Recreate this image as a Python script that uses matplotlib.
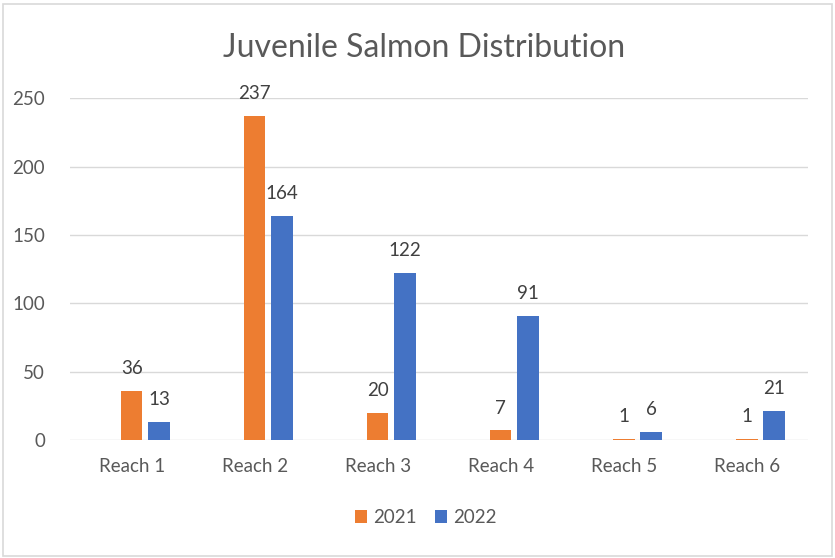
import matplotlib.pyplot as plt
import numpy as np
from matplotlib.patches import Rectangle

# Juvenile salmon counts per reach
reaches = ["Reach 1", "Reach 2", "Reach 3", "Reach 4", "Reach 5", "Reach 6"]
counts_2021 = [36, 237, 20, 7, 1, 1]
counts_2022 = [13, 164, 122, 91, 6, 21]
years = ["2021", "2022"]

orange = "#ED7D31"
blue = "#4472C4"
text_gray = "#595959"

plt.rcParams['font.family'] = ['Lato', 'DejaVu Sans']

fig = plt.figure(figsize=(8.35, 5.58), dpi=100)
ax = fig.add_axes([0.084, 0.2115, 0.884, 0.6125])

x = np.arange(len(reaches))
width = 0.175
b1 = ax.bar(x, counts_2021, width, color=orange, label=years[0])
b2 = ax.bar(x + 0.222, counts_2022, width, color=blue, label=years[1])

for bars in (b1, b2):
    ax.bar_label(bars, padding=10, fontsize=13.5, color="#404040")

ax.set_xlim(-0.5, len(reaches) - 0.5)
ax.set_ylim(0, 250)
ax.set_yticks(np.arange(0, 251, 50))
ax.set_xticks(x)
ax.set_xticklabels(reaches)
ax.tick_params(axis='both', length=0, labelsize=13.5, labelcolor=text_gray)
ax.tick_params(axis='y', pad=18)
ax.tick_params(axis='x', pad=13)
ax.grid(axis='y', color="#D9D9D9", linewidth=1)
ax.set_axisbelow(True)
for s in ax.spines.values():
    s.set_visible(False)

fig.suptitle("Juvenile Salmon Distribution", x=0.508, y=0.94, fontsize=23, color=text_gray)

fig.legend(loc='center', bbox_to_anchor=(0.51, 0.072), ncol=2, frameon=False,
           fontsize=13.5, handlelength=0.65, handleheight=0.65, handletextpad=0.3,
           columnspacing=1.0, labelcolor=text_gray)

# light border around the chart area
fig.patches.append(Rectangle((0.004, 0.004), 0.992, 0.988, transform=fig.transFigure,
                             fill=False, edgecolor="#D9D9D9", linewidth=1.2))

plt.savefig("out.png", dpi=100)
plt.close()
